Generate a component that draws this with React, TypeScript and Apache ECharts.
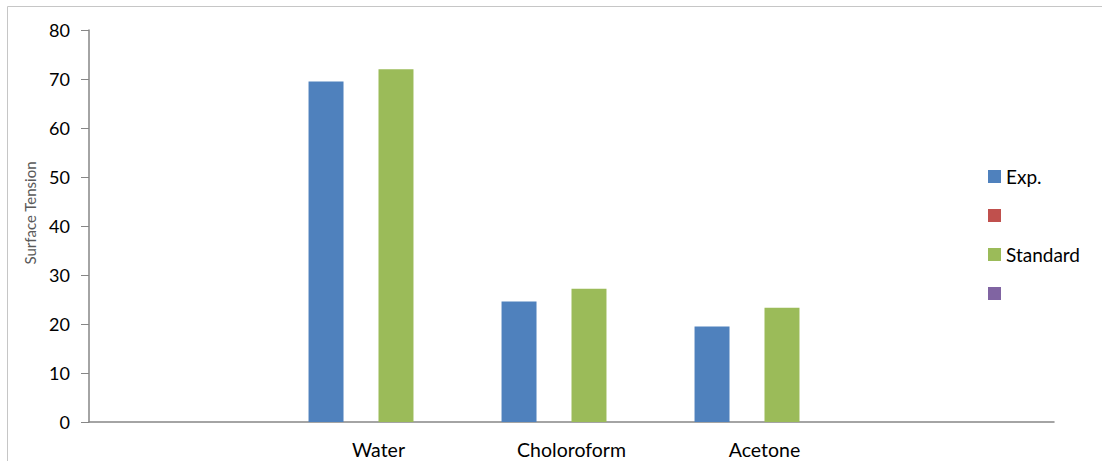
import React, { useEffect, useRef } from "react";
import * as echarts from "echarts";

const categories = ["", "Water", "Choloroform", "Acetone", ""];
const expValues = [null, 69.5, 24.6, 19.5, null];
const blank1Values = [null, null, null, null, null];
const standardValues = [null, 72.0, 27.2, 23.3, null];
const blank2Values = [null, null, null, null, null];
const seriesNames = ["Exp.", " ", "Standard", "  "];
const yTicks = { min: 0, max: 80, interval: 10 };

const FONT = "Lato, 'Noto Sans', sans-serif";

export default function App() {
  const ref = useRef<HTMLDivElement>(null);
  useEffect(() => {
    if (!ref.current) return;
    const chart = echarts.init(ref.current, undefined, { renderer: "svg" });
    const colors = ["#4F81BD", "#C0504D", "#9BBB59", "#8064A2"];
    const datas = [expValues, blank1Values, standardValues, blank2Values];
    chart.setOption({
      animation: false,
      color: colors,
      textStyle: { fontFamily: FONT },
      grid: { left: 89, right: 48, top: 30, bottom: 39 },
      graphic: [
        {
          type: "rect",
          shape: { x: 7.5, y: 6.5, width: 1200, height: 600 },
          style: { fill: "none", stroke: "#c6c6c6", lineWidth: 1 },
          silent: true,
        },
      ],
      legend: {
        orient: "vertical",
        left: 988,
        top: 167,
        padding: 0,
        itemWidth: 13,
        itemHeight: 13,
        itemGap: 20,
        icon: "rect",
        data: seriesNames,
        textStyle: { fontSize: 19, color: "#000", fontFamily: FONT },
      },
      xAxis: {
        type: "category",
        data: categories,
        axisLine: { lineStyle: { color: "#868686", width: 1.5 } },
        axisTick: { length: 6, lineStyle: { color: "#868686" } },
        axisLabel: { fontSize: 19.5, color: "#000", margin: 17, fontFamily: FONT, interval: 0 },
      },
      yAxis: {
        type: "value",
        min: yTicks.min,
        max: yTicks.max,
        interval: yTicks.interval,
        name: "Surface Tension",
        nameLocation: "middle",
        nameGap: 52,
        nameTextStyle: { fontSize: 15, color: "#595959", fontFamily: FONT, padding: [0, 0, 0, 26] },
        axisLine: { show: true, lineStyle: { color: "#868686", width: 1.5 } },
        axisTick: { show: true, length: 8, lineStyle: { color: "#868686" } },
        splitLine: { show: false },
        axisLabel: { fontSize: 18, color: "#000", margin: 19, fontFamily: FONT },
      },
      series: datas.map((d, i) => ({
        name: seriesNames[i],
        type: "bar",
        data: d,
        barGap: "0%",
        barCategoryGap: "27.5%",
        itemStyle: { color: colors[i] },
      })),
    });
    return () => chart.dispose();
  }, []);
  return (
    <div
      ref={ref}
      style={{ position: "absolute", left: 0, top: 0, width: 1102, height: 461 }}
    />
  );
}
